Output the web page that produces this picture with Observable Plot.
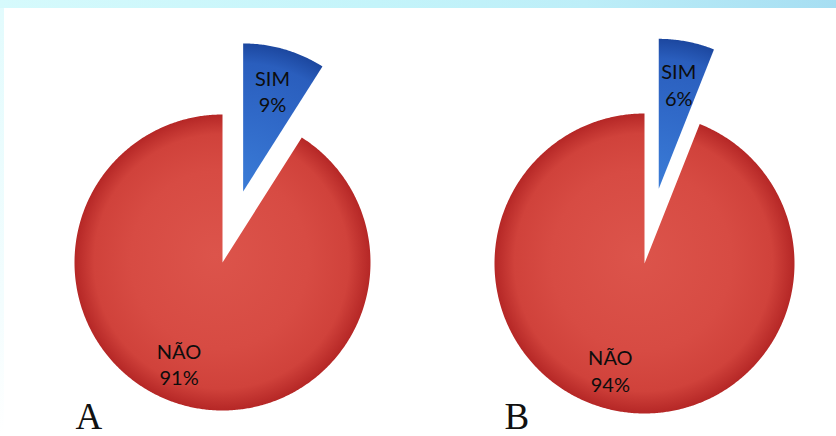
<!DOCTYPE html>
<html>
<head>
<meta charset="utf-8">
<script src="https://cdn.jsdelivr.net/npm/d3@7"></script>
<script src="https://cdn.jsdelivr.net/npm/@observablehq/plot@0.6"></script>
<style>
  html, body { margin: 0; padding: 0; background: #fff; }
  #wrap {
    width: 836px; height: 436px; position: relative;
    background:
      linear-gradient(to right, #d6fafc, #c4f4fa 45%, #bdeef8 70%, #a6def2) top left / 100% 8px no-repeat,
      linear-gradient(to bottom, #e2fbfd, #f3fdfe 70%, #ffffff) top left / 4px 100% no-repeat,
      #ffffff;
  }
  #wrap svg { position: absolute; left: 0; top: 0; background: transparent; }
</style>
</head>
<body>
<div id="wrap"></div>
<script>
// ---- data ----
const groups = ["A", "B"];
const categories = ["SIM", "NÃO"];
const valuesA = [9, 91];
const valuesB = [6, 94];
const seriesValues = [valuesA, valuesB];

// ---- layout (pixels) ----
const W = 836, H = 436;
const centersX = [222, 644];
const centersY = [262, 263];
const radii = [148, 150];
const explode = [74, 76];
const labelRadius = {"SIM": 0.71, "NÃO": 0.745};
const labelAngleShift = {"SIM": 0, "NÃO": 7 * Math.PI / 180};
const letterDx = [-147, -140];
const letterY = 428;

const pie = d3.pie().sort(null).value(d => d.value);

const slices = [];
const labels = [];
const gradients = [];
groups.forEach((g, gi) => {
  const arcs = pie(categories.map((c, ci) => ({cat: c, value: seriesValues[gi][ci]})));
  arcs.forEach((a, ai) => {
    const mid = (a.startAngle + a.endAngle) / 2;
    const off = a.data.cat === "SIM" ? explode[gi] : 0;
    const cx = centersX[gi] + off * Math.sin(mid);
    const cy = centersY[gi] - off * Math.cos(mid);
    const r = radii[gi];
    const id = `${g}-${ai}`;
    const pts = [{id, x: cx, y: cy}];
    const n = Math.max(8, Math.ceil((a.endAngle - a.startAngle) / (Math.PI / 360)));
    for (let k = 0; k <= n; k++) {
      const t = a.startAngle + (a.endAngle - a.startAngle) * k / n;
      pts.push({id, x: cx + r * Math.sin(t), y: cy - r * Math.cos(t)});
    }
    pts.push({id, x: cx, y: cy});
    slices.push({id, cat: a.data.cat, pts});
    gradients.push({id, cat: a.data.cat, cx, cy, r});
    const la = mid + labelAngleShift[a.data.cat];
    const lr = labelRadius[a.data.cat] * r;
    labels.push({
      x: cx + lr * Math.sin(la),
      y: cy - lr * Math.cos(la),
      text: `${a.data.cat}\n${a.data.value}%`
    });
  });
});
const letters = groups.map((g, gi) => ({x: centersX[gi] + letterDx[gi], y: letterY, text: g}));

const marks = slices.map(s => Plot.line(s.pts, {
  x: "x", y: "y", fill: `url(#grad-${s.id})`, stroke: "none", curve: "linear"
}));
marks.push(Plot.text(labels, {
  x: "x", y: "y", text: "text", fontSize: 20, fontFamily: "Lato, 'Open Sans', sans-serif",
  fill: "#0d0d0d", lineHeight: 1.32, textAnchor: "middle", lineAnchor: "middle"
}));
marks.push(Plot.text(letters, {
  x: "x", y: "y", text: "text", fontSize: 37, fontFamily: "'Liberation Serif', 'DejaVu Serif', serif",
  fill: "#111", textAnchor: "start", lineAnchor: "bottom", dy: 0
}));

const chart = Plot.plot({
  width: W, height: H,
  margin: 0,
  x: {domain: [0, W], range: [0, W], axis: null},
  y: {domain: [0, H], range: [0, H], axis: null},
  style: {background: "transparent", overflow: "visible"},
  marks
});

// gradient definitions
const ns = "http://www.w3.org/2000/svg";
const defs = document.createElementNS(ns, "defs");
const sx = chart.scale("x"), sy = chart.scale("y");
gradients.forEach(gd => {
  const rg = document.createElementNS(ns, "radialGradient");
  rg.setAttribute("id", `grad-${gd.id}`);
  rg.setAttribute("gradientUnits", "userSpaceOnUse");
  const px = sx.apply(gd.cx), py = sy.apply(gd.cy);
  rg.setAttribute("cx", px); rg.setAttribute("cy", py);
  rg.setAttribute("r", sx.apply(gd.cx + gd.r) - px);
  rg.setAttribute("fx", px - 0.05 * gd.r); rg.setAttribute("fy", py - 0.05 * gd.r);
  const stops = gd.cat === "SIM"
    ? [[0, "#3a7bd6"], [0.5, "#3069c8"], [0.86, "#2a5ebd"], [1, "#1c479f"]]
    : [[0, "#dc544b"], [0.6, "#d74b43"], [0.86, "#d0423b"], [1, "#b52726"]];
  stops.forEach(([o, c]) => {
    const st = document.createElementNS(ns, "stop");
    st.setAttribute("offset", o); st.setAttribute("stop-color", c);
    rg.appendChild(st);
  });
  defs.appendChild(rg);
});
chart.insertBefore(defs, chart.firstChild);

document.getElementById("wrap").appendChild(chart);
</script>
</body>
</html>
